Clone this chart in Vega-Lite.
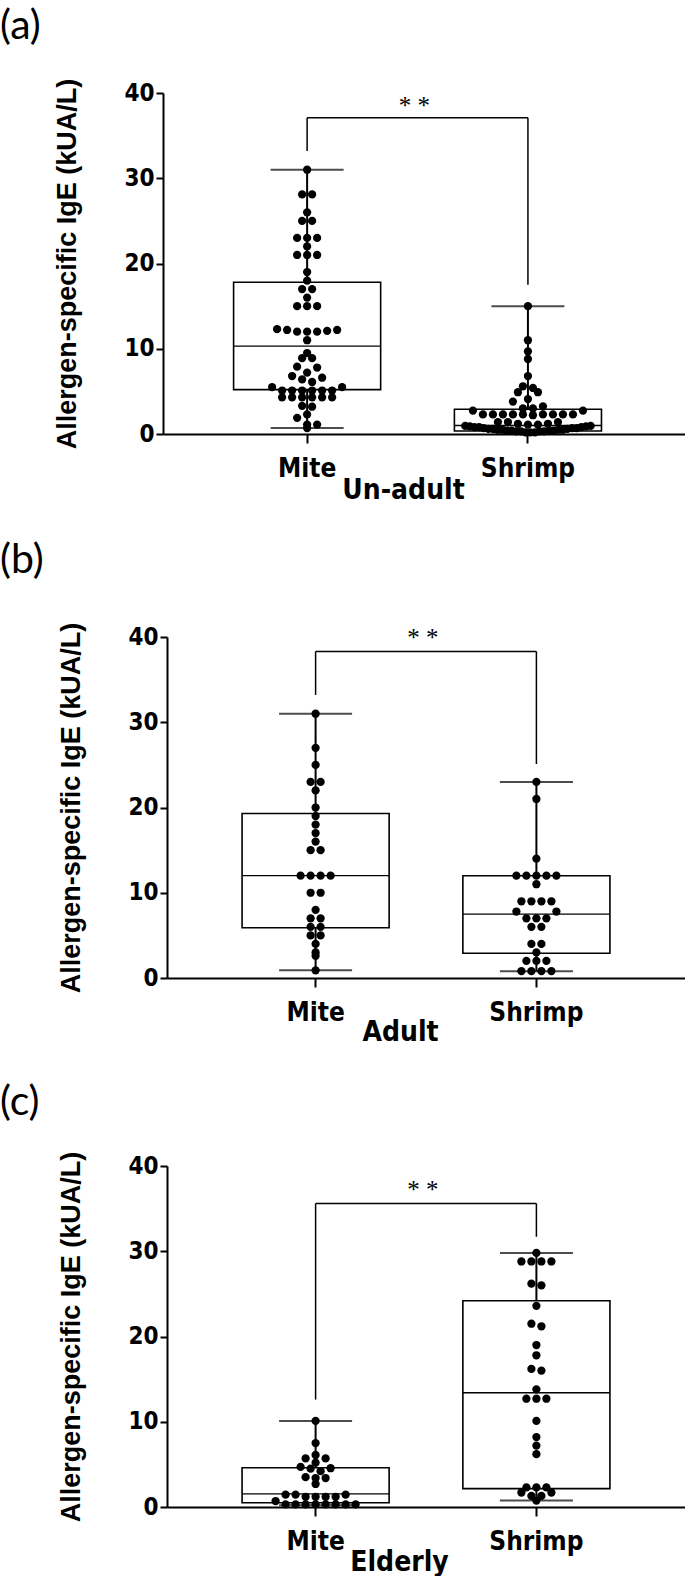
{
"$schema": "https://vega.github.io/schema/vega-lite/v6.json",
"background": "white",
"padding": {"left": 0, "top": 6, "right": 0, "bottom": 0},
"columns": 1,
"spacing": 36,
"datasets": {
"dots": [
{"panel":"a","group":"Mite","value":31.0},{"panel":"a","group":"Mite","value":28.1},{"panel":"a","group":"Mite","value":28.1},{"panel":"a","group":"Mite","value":26.0},{"panel":"a","group":"Mite","value":25.0},{"panel":"a","group":"Mite","value":25.0},{"panel":"a","group":"Mite","value":23.0},{"panel":"a","group":"Mite","value":23.0},{"panel":"a","group":"Mite","value":23.0},{"panel":"a","group":"Mite","value":22.0},{"panel":"a","group":"Mite","value":21.0},{"panel":"a","group":"Mite","value":21.0},{"panel":"a","group":"Mite","value":21.0},{"panel":"a","group":"Mite","value":19.0},{"panel":"a","group":"Mite","value":18.0},{"panel":"a","group":"Mite","value":17.0},{"panel":"a","group":"Mite","value":17.0},{"panel":"a","group":"Mite","value":16.0},{"panel":"a","group":"Mite","value":15.0},{"panel":"a","group":"Mite","value":15.0},{"panel":"a","group":"Mite","value":15.0},{"panel":"a","group":"Mite","value":12.0},{"panel":"a","group":"Mite","value":12.2},{"panel":"a","group":"Mite","value":12.0},{"panel":"a","group":"Mite","value":12.2},{"panel":"a","group":"Mite","value":12.3},{"panel":"a","group":"Mite","value":12.0},{"panel":"a","group":"Mite","value":12.1},{"panel":"a","group":"Mite","value":11.0},{"panel":"a","group":"Mite","value":9.5},{"panel":"a","group":"Mite","value":8.9},{"panel":"a","group":"Mite","value":8.9},{"panel":"a","group":"Mite","value":7.9},{"panel":"a","group":"Mite","value":7.8},{"panel":"a","group":"Mite","value":7.2},{"panel":"a","group":"Mite","value":6.8},{"panel":"a","group":"Mite","value":6.6},{"panel":"a","group":"Mite","value":6.4},{"panel":"a","group":"Mite","value":6.1},{"panel":"a","group":"Mite","value":5.5},{"panel":"a","group":"Mite","value":5.5},{"panel":"a","group":"Mite","value":5.1},{"panel":"a","group":"Mite","value":5.1},{"panel":"a","group":"Mite","value":5.1},{"panel":"a","group":"Mite","value":5.1},{"panel":"a","group":"Mite","value":5.1},{"panel":"a","group":"Mite","value":5.1},{"panel":"a","group":"Mite","value":4.3},{"panel":"a","group":"Mite","value":4.3},{"panel":"a","group":"Mite","value":4.3},{"panel":"a","group":"Mite","value":4.3},{"panel":"a","group":"Mite","value":4.3},{"panel":"a","group":"Mite","value":4.3},{"panel":"a","group":"Mite","value":3.3},{"panel":"a","group":"Mite","value":3.2},{"panel":"a","group":"Mite","value":2.3},{"panel":"a","group":"Mite","value":1.9},{"panel":"a","group":"Mite","value":1.1},{"panel":"a","group":"Mite","value":1.1},{"panel":"a","group":"Mite","value":0.7},
{"panel":"a","group":"Shrimp","value":15.0},{"panel":"a","group":"Shrimp","value":11.0},{"panel":"a","group":"Shrimp","value":9.7},{"panel":"a","group":"Shrimp","value":8.8},{"panel":"a","group":"Shrimp","value":6.8},{"panel":"a","group":"Shrimp","value":5.6},{"panel":"a","group":"Shrimp","value":5.4},{"panel":"a","group":"Shrimp","value":4.9},{"panel":"a","group":"Shrimp","value":4.9},{"panel":"a","group":"Shrimp","value":4.1},{"panel":"a","group":"Shrimp","value":3.8},{"panel":"a","group":"Shrimp","value":3.25},{"panel":"a","group":"Shrimp","value":3.0},{"panel":"a","group":"Shrimp","value":3.0},{"panel":"a","group":"Shrimp","value":2.75},{"panel":"a","group":"Shrimp","value":2.75},{"panel":"a","group":"Shrimp","value":2.3},{"panel":"a","group":"Shrimp","value":2.3},{"panel":"a","group":"Shrimp","value":2.3},{"panel":"a","group":"Shrimp","value":2.3},{"panel":"a","group":"Shrimp","value":2.3},{"panel":"a","group":"Shrimp","value":2.3},{"panel":"a","group":"Shrimp","value":2.3},{"panel":"a","group":"Shrimp","value":2.3},{"panel":"a","group":"Shrimp","value":2.3},{"panel":"a","group":"Shrimp","value":2.2},{"panel":"a","group":"Shrimp","value":1.4},{"panel":"a","group":"Shrimp","value":1.4},{"panel":"a","group":"Shrimp","value":1.4},{"panel":"a","group":"Shrimp","value":1.2},{"panel":"a","group":"Shrimp","value":1.2},{"panel":"a","group":"Shrimp","value":1.1},{"panel":"a","group":"Shrimp","value":1.1},{"panel":"a","group":"Shrimp","value":0.95},{"panel":"a","group":"Shrimp","value":0.95},{"panel":"a","group":"Shrimp","value":0.9},{"panel":"a","group":"Shrimp","value":0.9},{"panel":"a","group":"Shrimp","value":0.8},{"panel":"a","group":"Shrimp","value":0.8},{"panel":"a","group":"Shrimp","value":0.8},{"panel":"a","group":"Shrimp","value":0.7},{"panel":"a","group":"Shrimp","value":0.7},{"panel":"a","group":"Shrimp","value":0.7},{"panel":"a","group":"Shrimp","value":0.6},{"panel":"a","group":"Shrimp","value":0.6},{"panel":"a","group":"Shrimp","value":0.6},{"panel":"a","group":"Shrimp","value":0.5},{"panel":"a","group":"Shrimp","value":0.5},{"panel":"a","group":"Shrimp","value":0.5},{"panel":"a","group":"Shrimp","value":0.5},{"panel":"a","group":"Shrimp","value":0.4},{"panel":"a","group":"Shrimp","value":0.4},{"panel":"a","group":"Shrimp","value":0.4},{"panel":"a","group":"Shrimp","value":0.4},{"panel":"a","group":"Shrimp","value":0.3},{"panel":"a","group":"Shrimp","value":0.3},{"panel":"a","group":"Shrimp","value":0.3},{"panel":"a","group":"Shrimp","value":0.3},{"panel":"a","group":"Shrimp","value":0.2},{"panel":"a","group":"Shrimp","value":0.2},{"panel":"a","group":"Shrimp","value":0.2},
{"panel":"b","group":"Mite","value":31},{"panel":"b","group":"Mite","value":27},{"panel":"b","group":"Mite","value":25},{"panel":"b","group":"Mite","value":23},{"panel":"b","group":"Mite","value":23},{"panel":"b","group":"Mite","value":22},{"panel":"b","group":"Mite","value":20},{"panel":"b","group":"Mite","value":19},{"panel":"b","group":"Mite","value":18},{"panel":"b","group":"Mite","value":17},{"panel":"b","group":"Mite","value":16},{"panel":"b","group":"Mite","value":15},{"panel":"b","group":"Mite","value":15},{"panel":"b","group":"Mite","value":12},{"panel":"b","group":"Mite","value":12},{"panel":"b","group":"Mite","value":12},{"panel":"b","group":"Mite","value":12},{"panel":"b","group":"Mite","value":10},{"panel":"b","group":"Mite","value":10},{"panel":"b","group":"Mite","value":8},{"panel":"b","group":"Mite","value":7},{"panel":"b","group":"Mite","value":7},{"panel":"b","group":"Mite","value":6},{"panel":"b","group":"Mite","value":6},{"panel":"b","group":"Mite","value":5},{"panel":"b","group":"Mite","value":5},{"panel":"b","group":"Mite","value":4},{"panel":"b","group":"Mite","value":3},{"panel":"b","group":"Mite","value":2.6},{"panel":"b","group":"Mite","value":0.9},
{"panel":"b","group":"Shrimp","value":23},{"panel":"b","group":"Shrimp","value":21},{"panel":"b","group":"Shrimp","value":14},{"panel":"b","group":"Shrimp","value":12},{"panel":"b","group":"Shrimp","value":12},{"panel":"b","group":"Shrimp","value":12},{"panel":"b","group":"Shrimp","value":12},{"panel":"b","group":"Shrimp","value":12},{"panel":"b","group":"Shrimp","value":11},{"panel":"b","group":"Shrimp","value":9},{"panel":"b","group":"Shrimp","value":9},{"panel":"b","group":"Shrimp","value":9},{"panel":"b","group":"Shrimp","value":9},{"panel":"b","group":"Shrimp","value":7.8},{"panel":"b","group":"Shrimp","value":7.8},{"panel":"b","group":"Shrimp","value":7},{"panel":"b","group":"Shrimp","value":7},{"panel":"b","group":"Shrimp","value":7},{"panel":"b","group":"Shrimp","value":6},{"panel":"b","group":"Shrimp","value":6},{"panel":"b","group":"Shrimp","value":4},{"panel":"b","group":"Shrimp","value":4},{"panel":"b","group":"Shrimp","value":3},{"panel":"b","group":"Shrimp","value":2},{"panel":"b","group":"Shrimp","value":2},{"panel":"b","group":"Shrimp","value":2},{"panel":"b","group":"Shrimp","value":0.8},{"panel":"b","group":"Shrimp","value":0.8},{"panel":"b","group":"Shrimp","value":0.8},{"panel":"b","group":"Shrimp","value":0.8},
{"panel":"c","group":"Mite","value":10.1},{"panel":"c","group":"Mite","value":7.5},{"panel":"c","group":"Mite","value":6.1},{"panel":"c","group":"Mite","value":5.7},{"panel":"c","group":"Mite","value":5.7},{"panel":"c","group":"Mite","value":5.2},{"panel":"c","group":"Mite","value":4.7},{"panel":"c","group":"Mite","value":4.55},{"panel":"c","group":"Mite","value":4.5},{"panel":"c","group":"Mite","value":4.2},{"panel":"c","group":"Mite","value":3.5},{"panel":"c","group":"Mite","value":3.4},{"panel":"c","group":"Mite","value":3.4},{"panel":"c","group":"Mite","value":2.7},{"panel":"c","group":"Mite","value":1.45},{"panel":"c","group":"Mite","value":1.45},{"panel":"c","group":"Mite","value":1.45},{"panel":"c","group":"Mite","value":1.2},{"panel":"c","group":"Mite","value":1.2},{"panel":"c","group":"Mite","value":1.2},{"panel":"c","group":"Mite","value":1.2},{"panel":"c","group":"Mite","value":0.7},{"panel":"c","group":"Mite","value":0.3},{"panel":"c","group":"Mite","value":0.3},{"panel":"c","group":"Mite","value":0.3},{"panel":"c","group":"Mite","value":0.3},{"panel":"c","group":"Mite","value":0.3},{"panel":"c","group":"Mite","value":0.3},{"panel":"c","group":"Mite","value":0.3},{"panel":"c","group":"Mite","value":0.3},
{"panel":"c","group":"Shrimp","value":29.8},{"panel":"c","group":"Shrimp","value":28.8},{"panel":"c","group":"Shrimp","value":28.8},{"panel":"c","group":"Shrimp","value":28.8},{"panel":"c","group":"Shrimp","value":28.8},{"panel":"c","group":"Shrimp","value":26.2},{"panel":"c","group":"Shrimp","value":26.0},{"panel":"c","group":"Shrimp","value":23.6},{"panel":"c","group":"Shrimp","value":21.5},{"panel":"c","group":"Shrimp","value":21.2},{"panel":"c","group":"Shrimp","value":19.0},{"panel":"c","group":"Shrimp","value":17.8},{"panel":"c","group":"Shrimp","value":16.2},{"panel":"c","group":"Shrimp","value":16.0},{"panel":"c","group":"Shrimp","value":13.8},{"panel":"c","group":"Shrimp","value":12.7},{"panel":"c","group":"Shrimp","value":12.7},{"panel":"c","group":"Shrimp","value":12.7},{"panel":"c","group":"Shrimp","value":10.1},{"panel":"c","group":"Shrimp","value":8.2},{"panel":"c","group":"Shrimp","value":7.2},{"panel":"c","group":"Shrimp","value":6.2},{"panel":"c","group":"Shrimp","value":2.3},{"panel":"c","group":"Shrimp","value":2.3},{"panel":"c","group":"Shrimp","value":2.3},{"panel":"c","group":"Shrimp","value":1.7},{"panel":"c","group":"Shrimp","value":1.7},{"panel":"c","group":"Shrimp","value":1.3},{"panel":"c","group":"Shrimp","value":1.3},{"panel":"c","group":"Shrimp","value":0.75}
],
"stats": [
{"panel":"a","group":"Mite","min":0.7,"q1":5.2,"med":10.3,"q3":17.8,"max":31.0},
{"panel":"a","group":"Shrimp","min":0.2,"q1":0.35,"med":1.0,"q3":2.9,"max":15.0},
{"panel":"b","group":"Mite","min":0.9,"q1":5.9,"med":12.0,"q3":19.3,"max":31.0},
{"panel":"b","group":"Shrimp","min":0.8,"q1":2.9,"med":7.5,"q3":12.0,"max":23.0},
{"panel":"c","group":"Mite","min":0.2,"q1":0.5,"med":1.55,"q3":4.6,"max":10.1},
{"panel":"c","group":"Shrimp","min":0.75,"q1":2.15,"med":13.4,"q3":24.2,"max":29.8}
],
"legs": [
{"panel":"a","group":"Mite","lo":33.2,"hi":37.1},{"panel":"a","group":"Shrimp","lo":17.5,"hi":37.1},
{"panel":"b","group":"Mite","lo":33.2,"hi":38.3},{"panel":"b","group":"Shrimp","lo":25.1,"hi":38.3},
{"panel":"c","group":"Mite","lo":12.6,"hi":35.6},{"panel":"c","group":"Shrimp","lo":31.7,"hi":35.6}
],
"sig": [
{"panel":"a","from":"Mite","to":"Shrimp","hi":37.1,"star":37.5,"label":"* *"},
{"panel":"b","from":"Mite","to":"Shrimp","hi":38.3,"star":38.9,"label":"* *"},
{"panel":"c","from":"Mite","to":"Shrimp","hi":35.6,"star":36.3,"label":"* *"}
]
},
"concat": [
{
"width": 518, "height": 341,
"title": {"text": "(a)", "dx": -167, "offset": 30},
"layer": [
{"data":{"name":"stats"},"transform":[{"filter":"datum.panel==='a'"}],"mark":{"type":"rule","strokeWidth":2,"color":"black"},
 "encoding":{"x":{"field":"group","type":"nominal","title":"Un-adult","scale":{"domain":["Mite","Shrimp"],"range":[-4,518],"paddingInner":0.334,"paddingOuter":0.349,"align":0.458},"axis":{"titleX":236,"titleY":64}},
 "y":{"field":"min","type":"quantitative","title":"Allergen-specific IgE (kUA/L)","scale":{"domain":[0,40],"nice":false},"axis":{"offset":4}},"y2":{"field":"q1"}}},
{"data":{"name":"stats"},"transform":[{"filter":"datum.panel==='a'"}],"mark":{"type":"rule","strokeWidth":2,"color":"black"},
 "encoding":{"x":{"field":"group","type":"nominal","title":"Un-adult"},"y":{"field":"q3","type":"quantitative","title":"Allergen-specific IgE (kUA/L)"},"y2":{"field":"max"}}},
{"data":{"name":"stats"},"transform":[{"filter":"datum.panel==='a'"},{"fold":["min","max"],"as":["stat","val"]}],"mark":{"type":"tick","size":73,"thickness":2,"color":"black"},
 "encoding":{"x":{"field":"group","type":"nominal","title":"Un-adult"},"y":{"field":"val","type":"quantitative","title":"Allergen-specific IgE (kUA/L)"}}},
{"data":{"name":"stats"},"transform":[{"filter":"datum.panel==='a'"}],"mark":{"type":"rect","fill":"white","stroke":"black","strokeWidth":1.6},
 "encoding":{"x":{"field":"group","type":"nominal","title":"Un-adult","bandPosition":0},"x2":{"field":"group","bandPosition":1},"y":{"field":"q1","type":"quantitative","title":"Allergen-specific IgE (kUA/L)"},"y2":{"field":"q3"}}},
{"data":{"name":"stats"},"transform":[{"filter":"datum.panel==='a'"}],"mark":{"type":"rule","strokeWidth":1.3,"color":"black"},
 "encoding":{"x":{"field":"group","type":"nominal","title":"Un-adult","bandPosition":0},"x2":{"field":"group","bandPosition":1},"y":{"field":"med","type":"quantitative","title":"Allergen-specific IgE (kUA/L)"}}},
{"data":{"name":"dots"},"transform":[{"filter":"datum.panel==='a'"},{"bin":{"step":1},"field":"value","as":"vb"},
 {"window":[{"op":"row_number","as":"r"},{"op":"count","as":"n"}],"groupby":["group","vb"],"sort":[{"field":"value","order":"ascending"}],"frame":[null,null]},
 {"calculate":"(datum.n % 2 == 1 ? (datum.r % 2 == 0 ? 1 : -1) * floor(datum.r / 2) : (datum.r % 2 == 1 ? 1 : -1) * (floor((datum.r - 1) / 2) + 0.5)) * min(1, 13 / datum.n)","as":"off"}],
 "mark":{"type":"point","filled":true,"color":"black","size":68,"opacity":1},
 "encoding":{"x":{"field":"group","type":"nominal","title":"Un-adult"},"xOffset":{"field":"off","type":"quantitative","scale":{"domain":[-7.35,7.35],"nice":false,"zero":false}},
 "y":{"field":"value","type":"quantitative","title":"Allergen-specific IgE (kUA/L)"}}},
{"data":{"name":"legs"},"transform":[{"filter":"datum.panel==='a'"}],"mark":{"type":"rule","strokeWidth":1.5,"color":"black"},
 "encoding":{"x":{"field":"group","type":"nominal","title":"Un-adult"},"y":{"field":"lo","type":"quantitative","title":"Allergen-specific IgE (kUA/L)"},"y2":{"field":"hi"}}},
{"data":{"name":"sig"},"transform":[{"filter":"datum.panel==='a'"}],"mark":{"type":"rule","strokeWidth":1.5,"color":"black"},
 "encoding":{"x":{"field":"from","type":"nominal","title":"Un-adult"},"x2":{"field":"to"},"y":{"field":"hi","type":"quantitative","title":"Allergen-specific IgE (kUA/L)"}}},
{"data":{"name":"sig"},"transform":[{"filter":"datum.panel==='a'"}],"mark":{"type":"text","font":"Liberation Serif","fontSize":25,"baseline":"alphabetic","align":"center","color":"black"},
 "encoding":{"x":{"field":"from","type":"nominal","title":"Un-adult","bandPosition":1.23},"y":{"field":"star","type":"quantitative","title":"Allergen-specific IgE (kUA/L)"},"text":{"field":"label"}}}
]
},
{
"width": 518, "height": 341,
"title": {"text": "(b)", "dx": -167, "offset": 40},
"layer": [
{"data":{"name":"stats"},"transform":[{"filter":"datum.panel==='b'"}],"mark":{"type":"rule","strokeWidth":2,"color":"black"},
 "encoding":{"x":{"field":"group","type":"nominal","title":"Adult","scale":{"domain":["Mite","Shrimp"],"paddingInner":0.334,"paddingOuter":0.34},"axis":{"titleX":233,"titleY":62}},
 "y":{"field":"min","type":"quantitative","title":"Allergen-specific IgE (kUA/L)","scale":{"domain":[0,40],"nice":false}},"y2":{"field":"q1"}}},
{"data":{"name":"stats"},"transform":[{"filter":"datum.panel==='b'"}],"mark":{"type":"rule","strokeWidth":2,"color":"black"},
 "encoding":{"x":{"field":"group","type":"nominal","title":"Adult"},"y":{"field":"q3","type":"quantitative","title":"Allergen-specific IgE (kUA/L)"},"y2":{"field":"max"}}},
{"data":{"name":"stats"},"transform":[{"filter":"datum.panel==='b'"},{"fold":["min","max"],"as":["stat","val"]}],"mark":{"type":"tick","size":73,"thickness":2,"color":"black"},
 "encoding":{"x":{"field":"group","type":"nominal","title":"Adult"},"y":{"field":"val","type":"quantitative","title":"Allergen-specific IgE (kUA/L)"}}},
{"data":{"name":"stats"},"transform":[{"filter":"datum.panel==='b'"}],"mark":{"type":"rect","fill":"white","stroke":"black","strokeWidth":1.6},
 "encoding":{"x":{"field":"group","type":"nominal","title":"Adult","bandPosition":0},"x2":{"field":"group","bandPosition":1},"y":{"field":"q1","type":"quantitative","title":"Allergen-specific IgE (kUA/L)"},"y2":{"field":"q3"}}},
{"data":{"name":"stats"},"transform":[{"filter":"datum.panel==='b'"}],"mark":{"type":"rule","strokeWidth":1.3,"color":"black"},
 "encoding":{"x":{"field":"group","type":"nominal","title":"Adult","bandPosition":0},"x2":{"field":"group","bandPosition":1},"y":{"field":"med","type":"quantitative","title":"Allergen-specific IgE (kUA/L)"}}},
{"data":{"name":"dots"},"transform":[{"filter":"datum.panel==='b'"},{"bin":{"step":1},"field":"value","as":"vb"},
 {"window":[{"op":"row_number","as":"r"},{"op":"count","as":"n"}],"groupby":["group","vb"],"sort":[{"field":"value","order":"ascending"}],"frame":[null,null]},
 {"calculate":"(datum.n % 2 == 1 ? (datum.r % 2 == 0 ? 1 : -1) * floor(datum.r / 2) : (datum.r % 2 == 1 ? 1 : -1) * (floor((datum.r - 1) / 2) + 0.5)) * min(1, 13 / datum.n)","as":"off"}],
 "mark":{"type":"point","filled":true,"color":"black","size":68,"opacity":1},
 "encoding":{"x":{"field":"group","type":"nominal","title":"Adult"},"xOffset":{"field":"off","type":"quantitative","scale":{"domain":[-7.35,7.35],"nice":false,"zero":false}},
 "y":{"field":"value","type":"quantitative","title":"Allergen-specific IgE (kUA/L)"}}},
{"data":{"name":"legs"},"transform":[{"filter":"datum.panel==='b'"}],"mark":{"type":"rule","strokeWidth":1.5,"color":"black"},
 "encoding":{"x":{"field":"group","type":"nominal","title":"Adult"},"y":{"field":"lo","type":"quantitative","title":"Allergen-specific IgE (kUA/L)"},"y2":{"field":"hi"}}},
{"data":{"name":"sig"},"transform":[{"filter":"datum.panel==='b'"}],"mark":{"type":"rule","strokeWidth":1.5,"color":"black"},
 "encoding":{"x":{"field":"from","type":"nominal","title":"Adult"},"x2":{"field":"to"},"y":{"field":"hi","type":"quantitative","title":"Allergen-specific IgE (kUA/L)"}}},
{"data":{"name":"sig"},"transform":[{"filter":"datum.panel==='b'"}],"mark":{"type":"text","font":"Liberation Serif","fontSize":25,"baseline":"alphabetic","align":"center","color":"black"},
 "encoding":{"x":{"field":"from","type":"nominal","title":"Adult","bandPosition":1.23},"y":{"field":"star","type":"quantitative","title":"Allergen-specific IgE (kUA/L)"},"text":{"field":"label"}}}
]
},
{
"width": 518, "height": 341,
"title": {"text": "(c)", "dx": -167, "offset": 27},
"layer": [
{"data":{"name":"stats"},"transform":[{"filter":"datum.panel==='c'"}],"mark":{"type":"rule","strokeWidth":2,"color":"black"},
 "encoding":{"x":{"field":"group","type":"nominal","title":"Elderly","scale":{"domain":["Mite","Shrimp"],"paddingInner":0.334,"paddingOuter":0.34},"axis":{"titleX":232,"titleY":63}},
 "y":{"field":"min","type":"quantitative","title":"Allergen-specific IgE (kUA/L)","scale":{"domain":[0,40],"nice":false}},"y2":{"field":"q1"}}},
{"data":{"name":"stats"},"transform":[{"filter":"datum.panel==='c'"}],"mark":{"type":"rule","strokeWidth":2,"color":"black"},
 "encoding":{"x":{"field":"group","type":"nominal","title":"Elderly"},"y":{"field":"q3","type":"quantitative","title":"Allergen-specific IgE (kUA/L)"},"y2":{"field":"max"}}},
{"data":{"name":"stats"},"transform":[{"filter":"datum.panel==='c'"},{"fold":["min","max"],"as":["stat","val"]}],"mark":{"type":"tick","size":73,"thickness":2,"color":"black"},
 "encoding":{"x":{"field":"group","type":"nominal","title":"Elderly"},"y":{"field":"val","type":"quantitative","title":"Allergen-specific IgE (kUA/L)"}}},
{"data":{"name":"stats"},"transform":[{"filter":"datum.panel==='c'"}],"mark":{"type":"rect","fill":"white","stroke":"black","strokeWidth":1.6},
 "encoding":{"x":{"field":"group","type":"nominal","title":"Elderly","bandPosition":0},"x2":{"field":"group","bandPosition":1},"y":{"field":"q1","type":"quantitative","title":"Allergen-specific IgE (kUA/L)"},"y2":{"field":"q3"}}},
{"data":{"name":"stats"},"transform":[{"filter":"datum.panel==='c'"}],"mark":{"type":"rule","strokeWidth":1.3,"color":"black"},
 "encoding":{"x":{"field":"group","type":"nominal","title":"Elderly","bandPosition":0},"x2":{"field":"group","bandPosition":1},"y":{"field":"med","type":"quantitative","title":"Allergen-specific IgE (kUA/L)"}}},
{"data":{"name":"dots"},"transform":[{"filter":"datum.panel==='c'"},{"bin":{"step":1},"field":"value","as":"vb"},
 {"window":[{"op":"row_number","as":"r"},{"op":"count","as":"n"}],"groupby":["group","vb"],"sort":[{"field":"value","order":"ascending"}],"frame":[null,null]},
 {"calculate":"(datum.n % 2 == 1 ? (datum.r % 2 == 0 ? 1 : -1) * floor(datum.r / 2) : (datum.r % 2 == 1 ? 1 : -1) * (floor((datum.r - 1) / 2) + 0.5)) * min(1, 13 / datum.n)","as":"off"}],
 "mark":{"type":"point","filled":true,"color":"black","size":68,"opacity":1},
 "encoding":{"x":{"field":"group","type":"nominal","title":"Elderly"},"xOffset":{"field":"off","type":"quantitative","scale":{"domain":[-7.35,7.35],"nice":false,"zero":false}},
 "y":{"field":"value","type":"quantitative","title":"Allergen-specific IgE (kUA/L)"}}},
{"data":{"name":"legs"},"transform":[{"filter":"datum.panel==='c'"}],"mark":{"type":"rule","strokeWidth":1.5,"color":"black"},
 "encoding":{"x":{"field":"group","type":"nominal","title":"Elderly"},"y":{"field":"lo","type":"quantitative","title":"Allergen-specific IgE (kUA/L)"},"y2":{"field":"hi"}}},
{"data":{"name":"sig"},"transform":[{"filter":"datum.panel==='c'"}],"mark":{"type":"rule","strokeWidth":1.5,"color":"black"},
 "encoding":{"x":{"field":"from","type":"nominal","title":"Elderly"},"x2":{"field":"to"},"y":{"field":"hi","type":"quantitative","title":"Allergen-specific IgE (kUA/L)"}}},
{"data":{"name":"sig"},"transform":[{"filter":"datum.panel==='c'"}],"mark":{"type":"text","font":"Liberation Serif","fontSize":25,"baseline":"alphabetic","align":"center","color":"black"},
 "encoding":{"x":{"field":"from","type":"nominal","title":"Elderly","bandPosition":1.23},"y":{"field":"star","type":"quantitative","title":"Allergen-specific IgE (kUA/L)"},"text":{"field":"label"}}}
]
}
],
"config": {
"view": {"stroke": null},
"font": "Liberation Sans",
"title": {"anchor": "start", "frame": "group", "font": "Lato", "fontSize": 41, "fontWeight": "normal", "baseline": "alphabetic", "color": "black"},
"axis": {"grid": false, "domainColor": "black", "domainWidth": 2, "tickColor": "black", "tickWidth": 2, "labelColor": "black", "titleColor": "black", "labelFont": "DejaVu Sans Condensed", "labelFontWeight": "bold"},
"axisX": {"tickSize": 9, "labelAngle": 0, "labelPadding": 12, "labelFontSize": 26, "titleFont": "DejaVu Sans Condensed", "titleFontSize": 28, "titleFontWeight": "bold", "titleBaseline": "alphabetic"},
"axisY": {"tickSize": 7, "tickCount": 4, "labelPadding": 2, "labelFontSize": 24, "titleFont": "Liberation Sans", "titleFontSize": 27, "titleFontWeight": "bold", "titleX": -82}
}
}
